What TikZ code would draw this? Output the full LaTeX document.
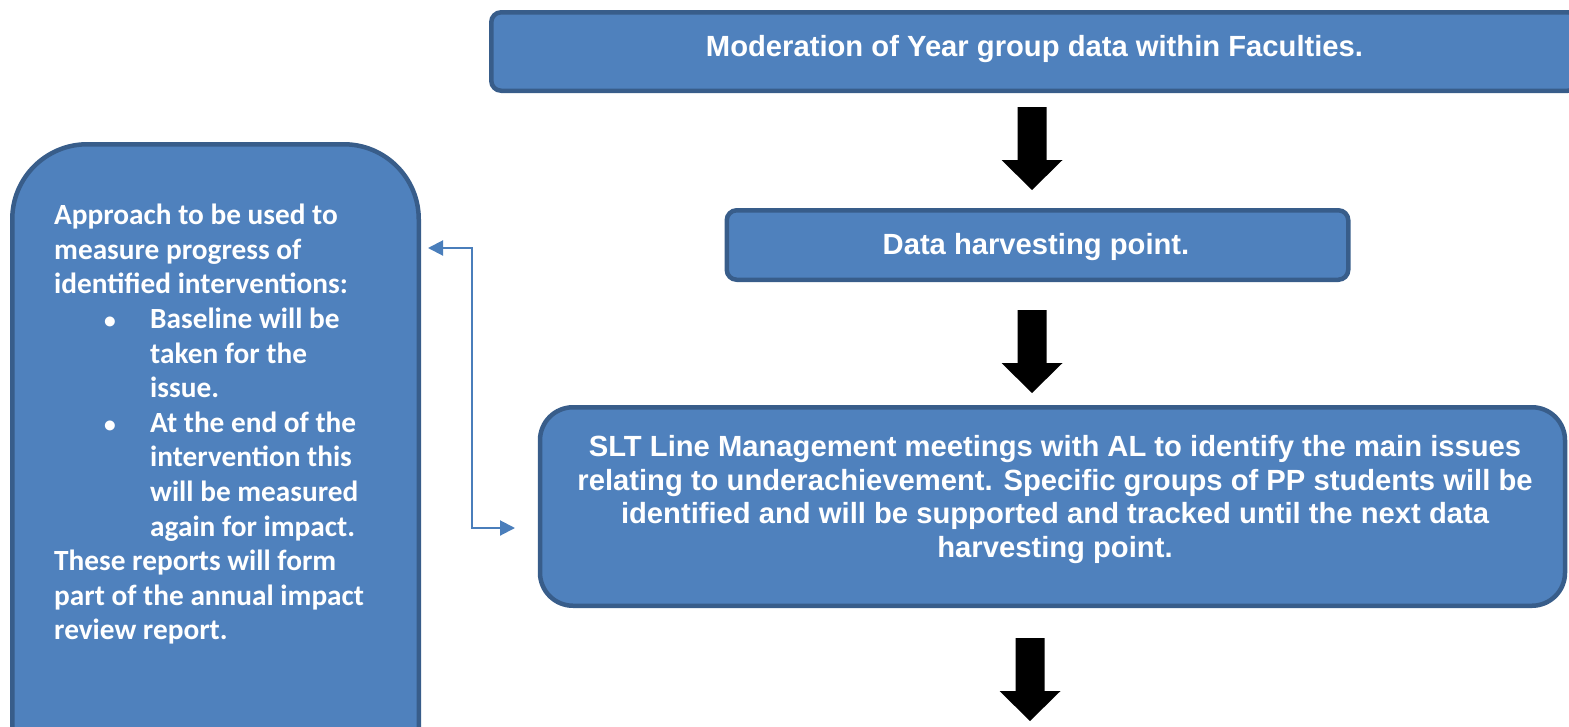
\documentclass[tikz,border=0pt]{standalone}
\usepackage{fontspec}
\setmainfont{Liberation Sans}
\newfontfamily\calib{Carlito}
\usetikzlibrary{arrows.meta}
\definecolor{boxfill}{HTML}{4F81BD}
\definecolor{boxline}{HTML}{385D8A}
\definecolor{conn}{HTML}{4A7EBB}
\tikzset{
  bluebox/.style={draw=boxline, fill=boxfill, line width=4.5pt, inner sep=0pt},
  boxtext/.style={text=white, font=\bfseries\fontsize{29.2}{33.8}\selectfont, inner sep=0pt},
  sidetext/.style={text=white, font=\calib\bfseries\fontsize{29.3}{34.6}\selectfont, inner sep=0pt, align=left},
  linkline/.style={draw=conn, line width=2pt, {Triangle[length=15pt,width=15pt]}-{Triangle[length=15pt,width=15pt]}},
  blockarrow/.style={fill=black}
}
\newcommand\blkarrow[2]{%
  \fill[blockarrow] ({#1-14.5},#2) -- ({#1+14.5},#2) -- ({#1+14.5},#2+53) -- ({#1+30.5},#2+53)
     -- (#1,#2+83) -- ({#1-30.5},#2+53) -- ({#1-14.5},#2+53) -- cycle;}
\begin{document}
\begin{tikzpicture}[x=1pt,y=-1pt]
\useasboundingbox (0,0) rectangle (1569,726);
\clip (0,0) rectangle (1569,726);
% boxes
\node[bluebox, rounded corners=10pt, minimum width=1086.5pt, minimum height=78.5pt] (top) at (1034.5,51.5) {};
\node[boxtext, anchor=base] (toptext) at (1034.5,56) {Moderation of Year group data within Faculties.};
\node[bluebox, rounded corners=10pt, minimum width=621.5pt, minimum height=69.5pt] (data) at (1037.5,245) {};
\node[boxtext, anchor=base] (datatext) at (1036,254) {Data harvesting point.};
\node[bluebox, rounded corners=33pt, minimum width=1025pt, minimum height=198.5pt] (slt) at (1052.5,506.5) {};
\node[boxtext, align=center, anchor=north] (slttext) at (1055,435) {SLT Line Management meetings with AL to identify the main issues\\ relating to underachievement. Specific groups of PP students will be\\ identified and will be supported and tracked until the next data\\ harvesting point.};
\node[bluebox, rounded corners=75pt, minimum width=406.5pt, minimum height=680pt] (side) at (215.5,484.25) {};
\node[sidetext, anchor=north west] (sidetext) at (54,204) {Approach to be used to\\
measure progress of\\
identified interventions:\\
\hspace*{50pt}\makebox[46pt][l]{\scalebox{0.8}{•}}Baseline will be\\
\hspace*{96pt}taken for the\\
\hspace*{96pt}issue.\\
\hspace*{50pt}\makebox[46pt][l]{\scalebox{0.8}{•}}At the end of the\\
\hspace*{96pt}intervention this\\
\hspace*{96pt}will be measured\\
\hspace*{96pt}again for impact.\\
These reports will form\\
part of the annual impact\\
review report.};
% block arrows
\blkarrow{1032}{107}
\blkarrow{1032}{310}
\blkarrow{1030}{638}
% connector
\coordinate (ca) at (428,248);
\coordinate (cb) at (515,528);
\draw[linkline] (ca) -- (472,248) |- (cb);
\end{tikzpicture}
\end{document}
